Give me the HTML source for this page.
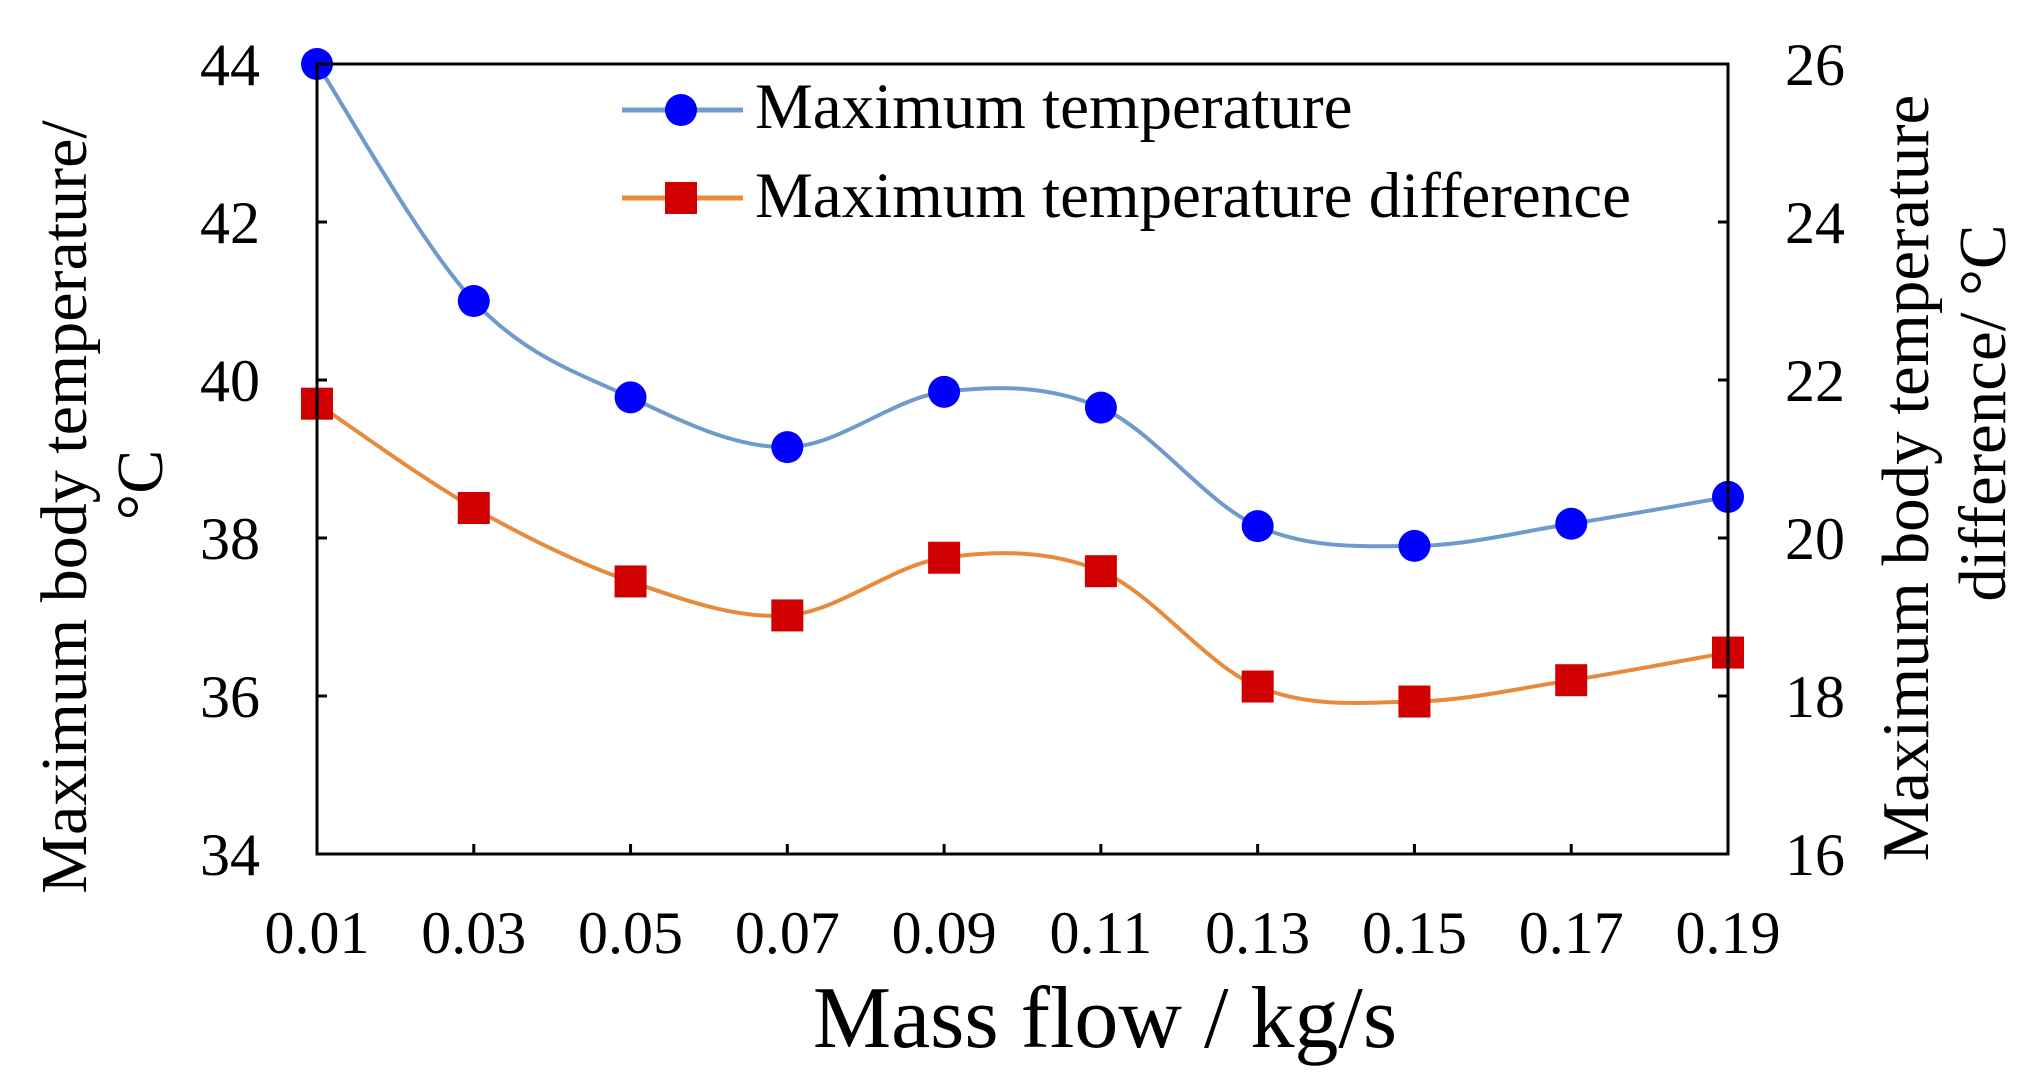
<!DOCTYPE html>
<html><head><meta charset="utf-8">
<style>
html,body{margin:0;padding:0;background:#fff;}
svg{display:block;font-family:"Liberation Serif","Times New Roman",serif;}
</style></head>
<body>
<svg id="chart" width="2026" height="1092" viewBox="0 0 2026 1092" xmlns="http://www.w3.org/2000/svg">
<rect x="0" y="0" width="2026" height="1092" fill="#fff"/>
<g id="grid"></g>
<g id="series"></g>
<g id="frame"></g>
<g id="labels"></g>
<g id="legend">
  <g>
    <line x1="622" y1="110" x2="743" y2="110" stroke="#6f9bcc" stroke-width="5"/>
    <circle cx="681" cy="110" r="16" fill="#0000ff"/>
    <text x="755" y="128" font-size="65" fill="#000">Maximum temperature</text>
  </g>
  <g>
    <line x1="622" y1="198" x2="743" y2="198" stroke="#e88a3c" stroke-width="5"/>
    <rect x="665" y="182" width="32" height="32" fill="#d00000"/>
    <text x="755" y="217" font-size="65" fill="#000">Maximum temperature difference</text>
  </g>
</g>
</svg>
<script>
const categories = ["0.01","0.03","0.05","0.07","0.09","0.11","0.13","0.15","0.17","0.19"];
const maxTemp = [44.0, 41.0, 39.78, 39.15, 39.85, 39.65, 38.15, 37.9, 38.18, 38.52];
const maxTempDiff = [21.7, 20.38, 19.45, 19.02, 19.75, 19.58, 18.12, 17.93, 18.2, 18.55];
const leftTicks = [34, 36, 38, 40, 42, 44];
const rightTicks = [16, 18, 20, 22, 24, 26];

const NS = "http://www.w3.org/2000/svg";
const L = 317, R = 1728, T = 64, B = 854;
const xScale = i => L + (R - L) * i / (categories.length - 1);
const yLeft = v => B - (v - 34) / (44 - 34) * (B - T);
const yRight = v => B - (v - 16) / (26 - 16) * (B - T);

function mk(tag, attrs, parent) {
  const e = document.createElementNS(NS, tag);
  for (const k in attrs) e.setAttribute(k, attrs[k]);
  parent.appendChild(e);
  return e;
}
const frame = document.getElementById('frame');
const labels = document.getElementById('labels');
const series = document.getElementById('series');

const box = mk('rect', {x: L, y: T, width: R - L, height: B - T, fill: 'none', stroke: '#000', 'stroke-width': 3}, frame);



categories.forEach((c, i) => {
  const x = xScale(i);
  const t = mk('line', {x1: x, y1: B, x2: x, y2: B - 10, stroke: '#000', 'stroke-width': 3}, frame);
  
  
  const tx = mk('text', {x: x, y: 953, 'font-size': 60, 'text-anchor': 'middle', fill: '#000'}, labels);
  tx.textContent = c;
  
  
});
leftTicks.forEach(v => {
  const y = yLeft(v);
  const t = mk('line', {x1: L, y1: y, x2: L + 10, y2: y, stroke: '#000', 'stroke-width': 3}, frame);
  
  
  const tx = mk('text', {x: 260, y: y + 21, 'font-size': 60, 'text-anchor': 'end', fill: '#000'}, labels);
  tx.textContent = v;
  
  
});
rightTicks.forEach(v => {
  const y = yRight(v);
  const t = mk('line', {x1: R, y1: y, x2: R - 10, y2: y, stroke: '#000', 'stroke-width': 3}, frame);
  
  
  const tx = mk('text', {x: 1785, y: y + 21, 'font-size': 60, 'text-anchor': 'start', fill: '#000'}, labels);
  tx.textContent = v;
  
  
});

let a = mk('text', {x: 1105, y: 1047, 'font-size': 88, 'text-anchor': 'middle', fill: '#000'}, labels);
a.textContent = 'Mass flow / kg/s';


a = mk('text', {x: 0, y: 0, 'font-size': 66, 'text-anchor': 'middle', fill: '#000', transform: 'translate(86,507) rotate(-90)'}, labels);
a.textContent = 'Maximum body temperature/';


a = mk('text', {x: 0, y: 0, 'font-size': 66, 'text-anchor': 'middle', fill: '#000', transform: 'translate(162,485) rotate(-90)'}, labels);
a.textContent = '°C';


a = mk('text', {x: 0, y: 0, 'font-size': 67, 'text-anchor': 'middle', fill: '#000', transform: 'translate(1928,478) rotate(-90)'}, labels);
a.textContent = 'Maximum body temperature';


a = mk('text', {x: 0, y: 0, 'font-size': 67, 'text-anchor': 'middle', fill: '#000', transform: 'translate(2005,413) rotate(-90)'}, labels);
a.textContent = 'difference/ °C';



function smoothPath(pts) {
  let d = `M${pts[0][0]},${pts[0][1]}`;
  for (let i = 0; i < pts.length - 1; i++) {
    const p0 = pts[Math.max(i - 1, 0)], p1 = pts[i], p2 = pts[i + 1], p3 = pts[Math.min(i + 2, pts.length - 1)];
    const c1x = p1[0] + (p2[0] - p0[0]) / 6, c1y = p1[1] + (p2[1] - p0[1]) / 6;
    const c2x = p2[0] - (p3[0] - p1[0]) / 6, c2y = p2[1] - (p3[1] - p1[1]) / 6;
    d += ` C${c1x},${c1y} ${c2x},${c2y} ${p2[0]},${p2[1]}`;
  }
  return d;
}

const p1 = maxTemp.map((v, i) => [xScale(i), yLeft(v)]);
const l1 = mk('path', {d: smoothPath(p1), fill: 'none', stroke: '#6f9bcc', 'stroke-width': 4}, series);


const p2 = maxTempDiff.map((v, i) => [xScale(i), yRight(v)]);
const l2 = mk('path', {d: smoothPath(p2), fill: 'none', stroke: '#e88a3c', 'stroke-width': 4}, series);



p1.forEach(p => {
  const c = mk('circle', {cx: p[0], cy: p[1], r: 16, fill: '#0000ff'}, series);
  
  
});
p2.forEach(p => {
  const s = mk('rect', {x: p[0] - 16, y: p[1] - 16, width: 32, height: 32, fill: '#d00000'}, series);
  
  
});
</script>
</body></html>
